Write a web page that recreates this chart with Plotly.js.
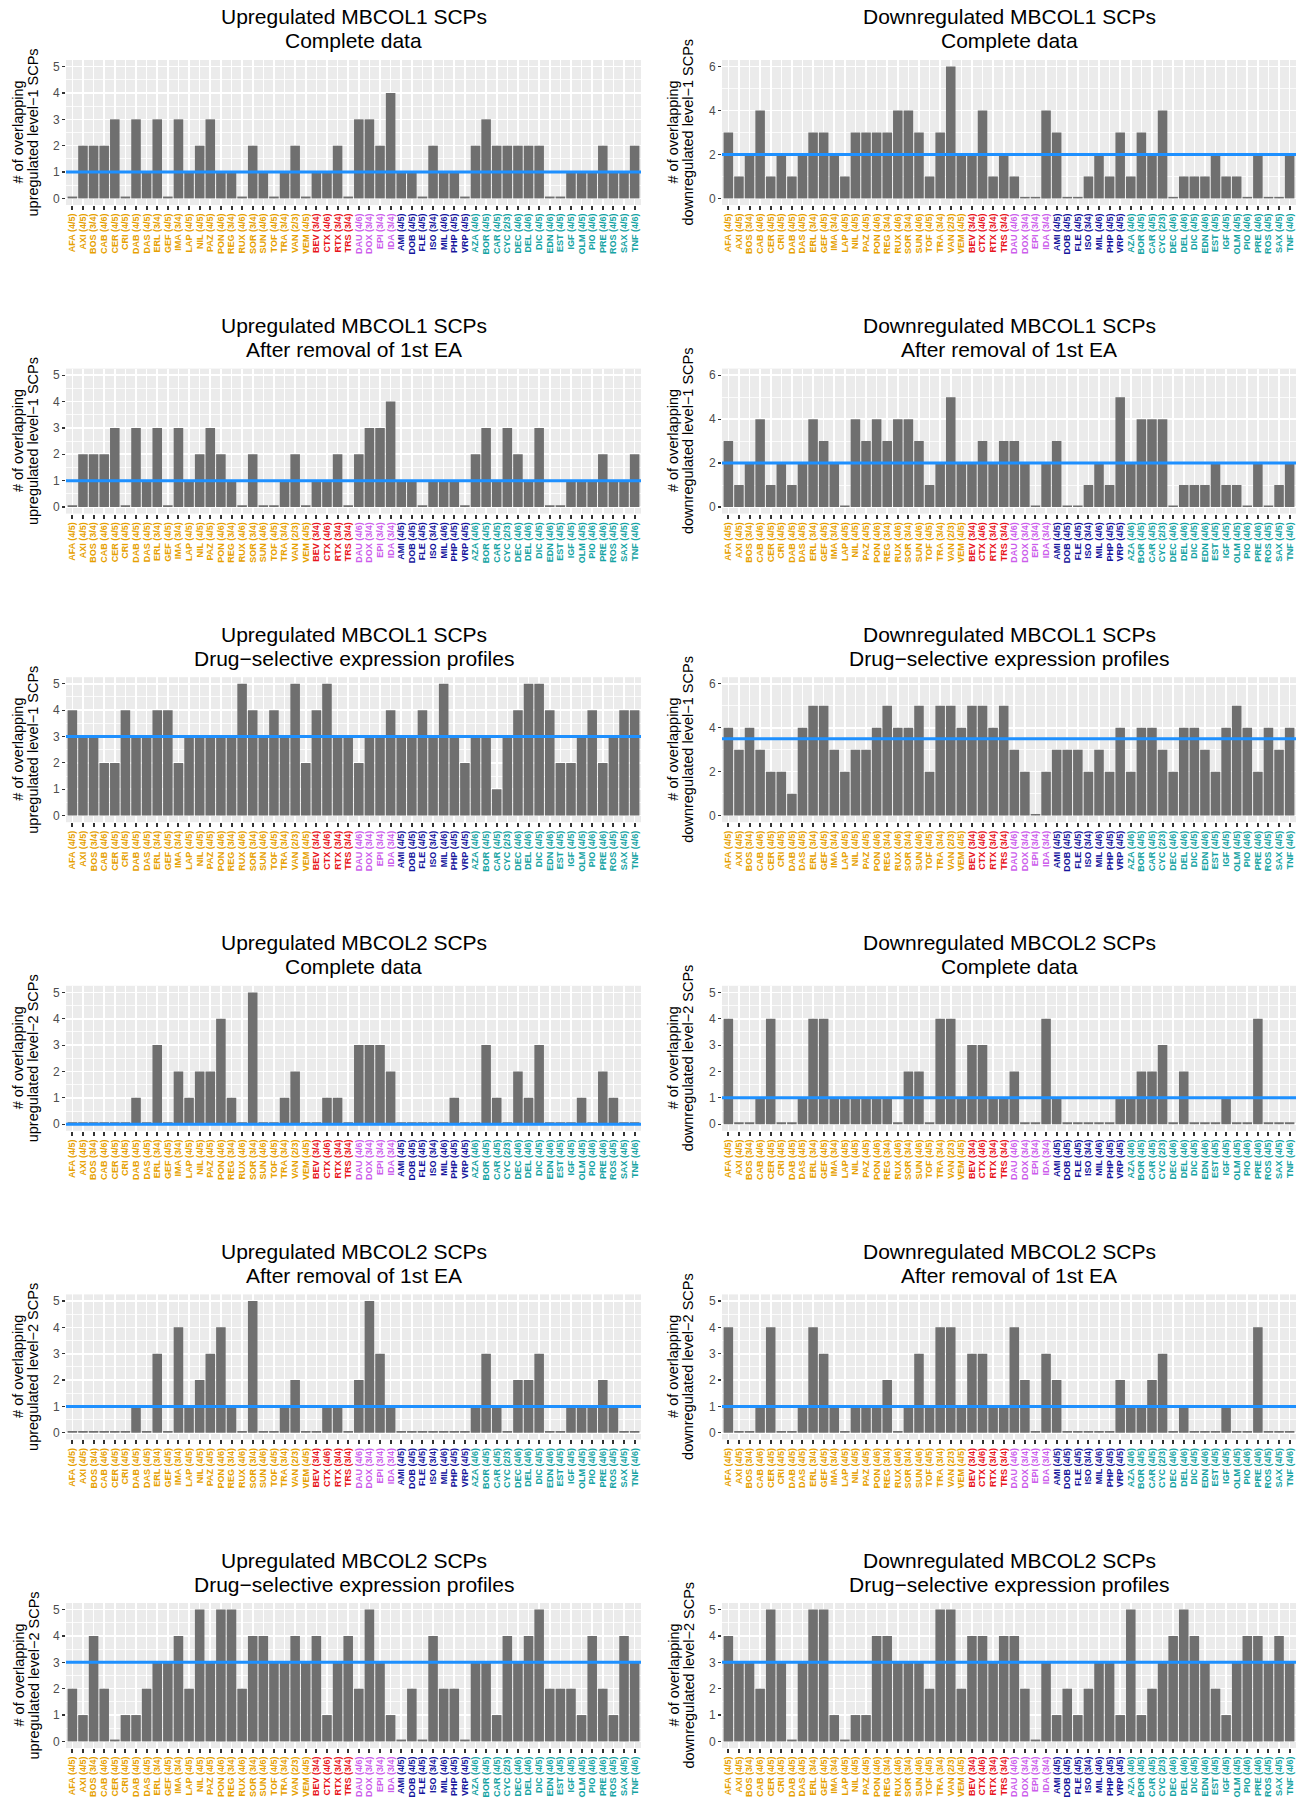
<!DOCTYPE html>
<html>
<head>
<meta charset="utf-8">
<script src="https://cdn.plot.ly/plotly-3.0.1.min.js"></script>
<style>
  body { margin: 0; background: #ffffff; }
  #chart { width: 1300px; height: 1806px; }
</style>
</head>
<body>
<div id="chart"></div>
<script>
// ---------------- DATA ----------------
const drugs = ["AFA","AXI","BOS","CAB","CER","CRI","DAB","DAS","ERL","GEF","IMA","LAP","NIL","PAZ","PON","REG","RUX","SOR","SUN","TOF","TRA","VAN","VEM","BEV","CTX","RTX","TRS","DAU","DOX","EPI","IDA","AMI","DOB","FLE","ISO","MIL","PHP","VRP","AZA","BOR","CAR","CYC","DEC","DEL","DIC","EDN","EST","IGF","OLM","PIO","PRE","ROS","SAX","TNF"];
const fractions = ["4/5","4/5","3/4","4/6","4/5","4/5","4/5","4/5","3/4","4/5","3/4","4/5","4/5","4/5","4/6","3/4","4/6","3/4","4/6","4/5","3/4","2/3","4/5","3/4","4/6","3/4","3/4","4/6","3/4","3/4","3/4","4/5","4/5","4/5","3/4","4/6","4/5","4/5","4/6","4/5","4/5","2/3","4/6","4/6","4/5","4/6","4/5","4/5","4/5","4/6","4/6","4/5","4/5","4/6"];
const drugClass = [
  "KI","KI","KI","KI","KI","KI","KI","KI","KI","KI","KI","KI","KI","KI","KI","KI","KI","KI","KI","KI","KI","KI","KI",
  "MAB","MAB","MAB","MAB",
  "ANT","ANT","ANT","ANT",
  "CARD","CARD","CARD","CARD","CARD","CARD","CARD",
  "OTH","OTH","OTH","OTH","OTH","OTH","OTH","OTH","OTH","OTH","OTH","OTH","OTH","OTH","OTH","OTH"
];
const classColors = { KI: "#E69F00", MAB: "#E8141C", ANT: "#CC5DEB", CARD: "#14149C", OTH: "#14A3A3" };

const upL1Complete   = [0,2,2,2,3,0,3,1,3,0,3,1,2,3,1,1,0,2,1,0,1,2,0,1,1,2,0,3,3,2,4,1,1,0,2,1,1,0,2,3,2,2,2,2,2,0,0,1,1,1,2,1,1,2];
const downL1Complete = [3,1,2,4,1,2,1,2,3,3,2,1,3,3,3,3,4,4,3,1,3,6,2,2,4,1,2,1,0,0,4,3,0,0,1,2,1,3,1,3,2,4,0,1,1,1,2,1,1,0,2,0,0,2];
const upL1Removal    = [0,2,2,2,3,0,3,1,3,0,3,1,2,3,2,1,0,2,0,0,1,2,0,1,1,2,0,2,3,3,4,1,1,0,1,1,1,0,2,3,1,3,2,1,3,0,0,1,1,1,2,1,1,2];
const downL1Removal  = [3,1,2,4,1,2,1,2,4,3,2,0,4,3,4,3,4,4,3,1,2,5,2,2,3,2,3,3,2,0,2,3,0,0,1,2,1,5,2,4,4,4,0,1,1,1,2,1,1,0,2,0,1,2];
const upL1Selective  = [4,3,3,2,2,4,3,3,4,4,2,3,3,3,3,3,5,4,3,4,3,5,2,4,5,3,3,2,3,3,4,3,3,4,3,5,3,2,3,3,1,3,4,5,5,4,2,2,3,4,2,3,4,4];
const downL1Selective= [4,3,4,3,2,2,1,4,5,5,3,2,3,3,4,5,4,4,5,2,5,5,4,5,5,4,5,3,2,0,2,3,3,3,2,3,2,4,2,4,4,3,2,4,4,3,2,4,5,4,2,4,3,4];
const upL2Complete   = [0,0,0,0,0,0,1,0,3,0,2,1,2,2,4,1,0,5,0,0,1,2,0,0,1,1,0,3,3,3,2,0,0,0,0,0,1,0,0,3,1,0,2,1,3,0,0,0,1,0,2,1,0,0];
const downL2Complete = [4,0,0,1,4,0,0,1,4,4,1,1,1,1,1,1,0,2,2,0,4,4,1,3,3,1,1,2,0,0,4,1,0,0,0,0,0,1,1,2,2,3,0,2,0,0,0,1,0,0,4,0,0,0];
const upL2Removal    = [0,0,0,0,0,0,1,0,3,0,4,1,2,3,4,1,0,5,0,0,1,2,0,0,1,1,0,2,5,3,1,0,0,0,0,0,0,0,1,3,1,0,2,2,3,0,0,1,1,1,2,1,0,0];
const downL2Removal  = [4,0,0,1,4,0,0,1,4,3,1,0,1,1,1,2,0,1,3,1,4,4,1,3,3,1,1,4,2,0,3,2,0,0,0,0,0,2,1,1,2,3,0,1,0,0,0,1,0,0,4,0,0,0];
const upL2Selective  = [2,1,4,2,0,1,1,2,3,3,4,2,5,3,5,5,2,4,4,3,3,4,3,4,1,3,4,2,5,3,1,0,2,0,4,2,2,0,3,3,1,4,3,4,5,2,2,2,1,4,2,1,4,3];
const downL2Selective= [4,3,3,2,5,3,0,3,5,5,1,0,1,1,4,4,3,3,3,2,5,5,2,4,4,3,4,4,2,0,3,1,2,1,2,3,3,1,5,1,2,3,4,5,4,3,2,1,3,4,4,3,4,3];

const panelSeries = [upL1Complete, downL1Complete, upL1Removal, downL1Removal, upL1Selective, downL1Selective,
                     upL2Complete, downL2Complete, upL2Removal, downL2Removal, upL2Selective, downL2Selective];
const titleLine1 = ["Upregulated MBCOL1 SCPs","Downregulated MBCOL1 SCPs","Upregulated MBCOL1 SCPs","Downregulated MBCOL1 SCPs",
                    "Upregulated MBCOL1 SCPs","Downregulated MBCOL1 SCPs","Upregulated MBCOL2 SCPs","Downregulated MBCOL2 SCPs",
                    "Upregulated MBCOL2 SCPs","Downregulated MBCOL2 SCPs","Upregulated MBCOL2 SCPs","Downregulated MBCOL2 SCPs"];
const titleLine2 = ["Complete data","Complete data","After removal of 1st EA","After removal of 1st EA",
                    "Drug\u2212selective expression profiles","Drug\u2212selective expression profiles",
                    "Complete data","Complete data","After removal of 1st EA","After removal of 1st EA",
                    "Drug\u2212selective expression profiles","Drug\u2212selective expression profiles"];
const yTitleLine1 = "# of overlapping";
const yTitleLine2 = ["upregulated level\u22121 SCPs","downregulated level\u22121 SCPs","upregulated level\u22121 SCPs","downregulated level\u22121 SCPs",
                     "upregulated level\u22121 SCPs","downregulated level\u22121 SCPs","upregulated level\u22122 SCPs","downregulated level\u22122 SCPs",
                     "upregulated level\u22122 SCPs","downregulated level\u22122 SCPs","upregulated level\u22122 SCPs","downregulated level\u22122 SCPs"];
const thresholds = [1, 2, 1, 2, 3, 3.5, 0, 1, 1, 1, 3, 3];
const yLimits   = [5, 6, 5, 6, 5, 6, 5, 5, 5, 5, 5, 5];

// ---------------- LAYOUT ----------------
const W = 1300, H = 1806;
const colLeft = [66, 722], colRight = [641, 1296];
const rowPitch = 308.6, panelTop0 = 60, panelBot0 = 205;
const titleY1 = 17, titleY2 = 41;
const yTitleX1 = [18, 673], yTitleX2 = [33, 688];
const FONT = "Liberation Sans, Arial, Helvetica, sans-serif";
const ZERO_STUB = 0.07; // visual height of zero-count bars

const tickText = drugs.map((d, i) =>
  '<span style="color:' + classColors[drugClass[i]] + '"><b>' + d + ' (' + fractions[i] + ')</b></span>');

const traces = [];
const layout = {
  width: W, height: H,
  margin: {l: 0, r: 0, t: 0, b: 0},
  paper_bgcolor: "#ffffff",
  plot_bgcolor: "#EBEBEB",
  showlegend: false,
  bargap: 0.1,
  font: {family: FONT, color: "#000000"},
  annotations: [],
  shapes: []
};

panelSeries.forEach((vals, k) => {
  const col = k % 2, row = Math.floor(k / 2);
  const suffix = k === 0 ? "" : String(k + 1);
  const top = panelTop0 + row * rowPitch, bot = panelBot0 + row * rowPitch;
  const xd = [colLeft[col] / W, colRight[col] / W];
  const yd = [1 - bot / H, 1 - top / H];
  const ymax = yLimits[k];

  traces.push({
    type: "bar",
    x: drugs,
    y: vals.map(v => v === 0 ? ZERO_STUB : v),
    xaxis: "x" + suffix, yaxis: "y" + suffix,
    marker: {color: "#6F6F6F", line: {width: 0}},
    width: 0.9,
    hoverinfo: "skip"
  });

  layout["xaxis" + suffix] = {
    domain: xd, anchor: "y" + suffix,
    type: "category",
    range: [-0.6, drugs.length - 0.4],
    tickmode: "array", tickvals: drugs, ticktext: tickText,
    tickangle: -90,
    tickfont: {size: 9, family: FONT},
    ticks: "outside", ticklen: 4, tickwidth: 2, tickcolor: "#333333",
    showgrid: true, gridcolor: "#FFFFFF", gridwidth: 1.6,
    zeroline: false, showline: false, fixedrange: true
  };
  layout["yaxis" + suffix] = {
    domain: yd, anchor: "x" + suffix,
    range: [-0.05 * ymax, 1.05 * ymax],
    tickmode: "linear", tick0: 0, dtick: ymax === 6 ? 2 : 1,
    tickfont: {size: 12, color: "#4D4D4D", family: FONT},
    ticks: "outside", ticklen: 3, tickwidth: 1.2, tickcolor: "#333333",
    showgrid: true, gridcolor: "#FFFFFF", gridwidth: 1.6,
    minor: {dtick: ymax === 6 ? 1 : 0.5, tick0: 0, showgrid: true, gridcolor: "#FFFFFF", gridwidth: 0.8, ticks: ""},
    zeroline: false, showline: false, fixedrange: true
  };

  layout.shapes.push({
    type: "line", xref: "x" + suffix + " domain", yref: "y" + suffix,
    x0: 0, x1: 1, y0: thresholds[k], y1: thresholds[k],
    line: {color: "#1E90FF", width: 3}, layer: "above"
  });

  const cx = (colLeft[col] + colRight[col]) / 2 / W;
  layout.annotations.push({
    xref: "paper", yref: "paper", x: cx, y: 1 - (titleY1 + row * rowPitch) / H,
    xanchor: "center", yanchor: "middle", showarrow: false,
    text: titleLine1[k], font: {size: 21, color: "#000000", family: FONT}
  });
  layout.annotations.push({
    xref: "paper", yref: "paper", x: cx, y: 1 - (titleY2 + row * rowPitch) / H,
    xanchor: "center", yanchor: "middle", showarrow: false,
    text: titleLine2[k], font: {size: 21, color: "#000000", family: FONT}
  });
  const cy = 1 - ((top + bot) / 2) / H;
  layout.annotations.push({
    xref: "paper", yref: "paper", x: yTitleX1[col] / W, y: cy,
    xanchor: "center", yanchor: "middle", showarrow: false, textangle: -90,
    text: yTitleLine1, font: {size: 14.5, color: "#000000", family: FONT}
  });
  layout.annotations.push({
    xref: "paper", yref: "paper", x: yTitleX2[col] / W, y: cy,
    xanchor: "center", yanchor: "middle", showarrow: false, textangle: -90,
    text: yTitleLine2[k], font: {size: 14.5, color: "#000000", family: FONT}
  });
});

Plotly.newPlot("chart", traces, layout, {displayModeBar: false, staticPlot: true});
</script>
</body>
</html>
